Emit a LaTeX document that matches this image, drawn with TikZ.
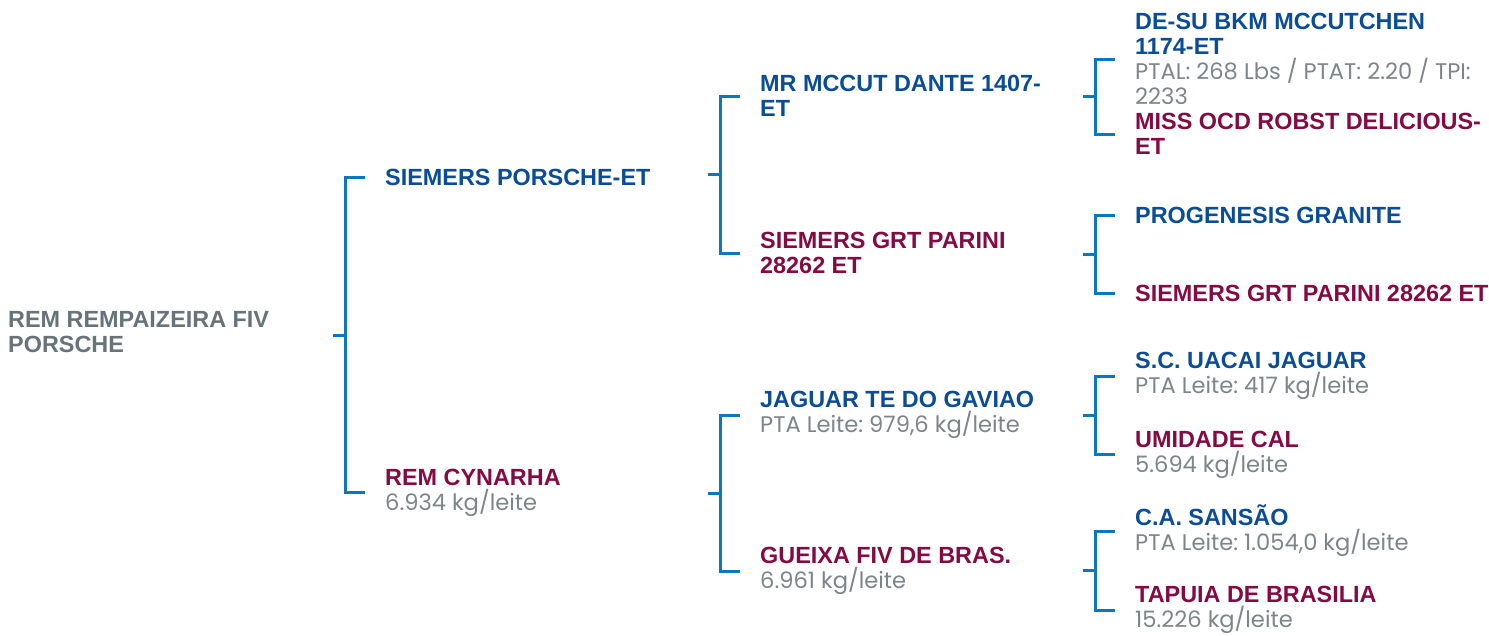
\documentclass[tikz,border=0pt]{standalone}
\usepackage{fontspec}
\setmainfont{Liberation Sans}
\newfontfamily\infofont{Poppins}
\usetikzlibrary{calc}
\definecolor{sireblue}{HTML}{0A4C96}
\definecolor{damred}{HTML}{850A42}
\definecolor{rootgray}{HTML}{66737B}
\definecolor{infogray}{HTML}{7C858A}
\definecolor{linkblue}{HTML}{0A78C0}
\newcommand{\info}[1]{{\infofont\mdseries\fontsize{22.6}{25}\selectfont\color{infogray}#1}}
\tikzset{
  animal/.style={anchor=west, inner sep=0pt, align=left,
                 font=\bfseries\fontsize{23.4}{25}\selectfont},
  rootname/.style={animal, text=rootgray},
  sirename/.style={animal, text=sireblue},
  damname/.style={animal, text=damred},
  bracket/.style={draw=linkblue, line width=3pt}
}
\frenchspacing

\begin{document}
\begin{tikzpicture}[x=1pt, y=-1pt]
\useasboundingbox (0,0) rectangle (1489,635);

% Animal
\node[rootname] (root) at (8,332.5) {REM REMPAIZEIRA FIV\\PORSCHE};

% Parents
\node[sirename] (sire) at (385,177.5) {SIEMERS PORSCHE-ET};
\node[damname] (dam) at (385,492.5) {REM CYNARHA\\\info{6.934 kg/leite}};

% Grandparents
\node[sirename] (ss) at (760,96) {MR MCCUT DANTE 1407-\\ET};
\node[damname] (sd) at (760,253) {SIEMERS GRT PARINI\\28262 ET};
\node[sirename] (ds) at (760,415) {JAGUAR TE DO GAVIAO\\\info{PTA Leite: 979,6 kg/leite}};
\node[damname] (dd) at (760,571) {GUEIXA FIV DE BRAS.\\\info{6.961 kg/leite}};

% Great-grandparents
\node[sirename] (sss) at (1135,59) {DE-SU BKM MCCUTCHEN\\1174-ET\\
      \info{PTAL: 268 Lbs / PTAT: 2.20 / TPI:}\\\info{2233}};
\node[damname] (ssd) at (1135,134) {MISS OCD ROBST DELICIOUS-\\ET};
\node[sirename] (sds) at (1135,215) {PROGENESIS GRANITE};
\node[damname] (sdd) at (1135,293) {SIEMERS GRT PARINI 28262 ET};
\node[sirename] (dss) at (1135,376) {S.C. UACAI JAGUAR\\\info{PTA Leite: 417 kg/leite}};
\node[damname] (dsd) at (1135,454.5) {UMIDADE CAL\\\info{5.694 kg/leite}};
\node[sirename] (dds) at (1135,531) {C.A. SANSÃO\\\info{PTA Leite: 1.054,0 kg/leite}};
\node[damname] (ddd) at (1135,610) {TAPUIA DE BRASILIA\\\info{15.226 kg/leite}};

% Brackets
\draw[bracket] ([xshift=-20pt]sire.west) -| ([xshift=-40pt]dam.west) -- ([xshift=-20pt]dam.west)
  ($([xshift=-40pt]sire.west)!.5!([xshift=-40pt]dam.west)$) -- ++(-12,0);
\draw[bracket] ([xshift=-20pt]ss.west) -| ([xshift=-40pt]sd.west) -- ([xshift=-20pt]sd.west)
  ($([xshift=-40pt]ss.west)!.5!([xshift=-40pt]sd.west)$) -- ++(-12,0);
\draw[bracket] ([xshift=-20pt]ds.west) -| ([xshift=-40pt]dd.west) -- ([xshift=-20pt]dd.west)
  ($([xshift=-40pt]ds.west)!.5!([xshift=-40pt]dd.west)$) -- ++(-12,0);
\draw[bracket] ([xshift=-20pt]sss.west) -| ([xshift=-40pt]ssd.west) -- ([xshift=-20pt]ssd.west)
  ($([xshift=-40pt]sss.west)!.5!([xshift=-40pt]ssd.west)$) -- ++(-12,0);
\draw[bracket] ([xshift=-20pt]sds.west) -| ([xshift=-40pt]sdd.west) -- ([xshift=-20pt]sdd.west)
  ($([xshift=-40pt]sds.west)!.5!([xshift=-40pt]sdd.west)$) -- ++(-12,0);
\draw[bracket] ([xshift=-20pt]dss.west) -| ([xshift=-40pt]dsd.west) -- ([xshift=-20pt]dsd.west)
  ($([xshift=-40pt]dss.west)!.5!([xshift=-40pt]dsd.west)$) -- ++(-12,0);
\draw[bracket] ([xshift=-20pt]dds.west) -| ([xshift=-40pt]ddd.west) -- ([xshift=-20pt]ddd.west)
  ($([xshift=-40pt]dds.west)!.5!([xshift=-40pt]ddd.west)$) -- ++(-12,0);

\end{tikzpicture}
\end{document}
